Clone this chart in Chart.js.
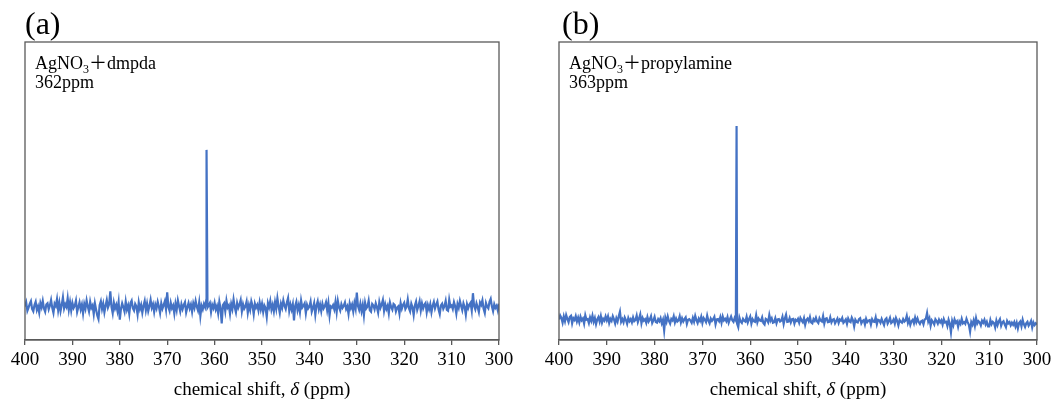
<!DOCTYPE html>
<html>
<head>
<meta charset="utf-8">
<script src="https://cdn.jsdelivr.net/npm/chart.js@4/dist/chart.umd.min.js"></script>
<style>
  body { margin: 0; background: #fff; }
  #wrap { position: relative; width: 1057px; height: 401px; }
  canvas { position: absolute; top: 0; }
</style>
</head>
<body>
<div id="wrap">
  <canvas id="chartA" width="530" height="401" style="left:0"></canvas>
  <canvas id="chartB" width="527" height="401" style="left:530px"></canvas>
</div>
<script>
// shift grid 400 -> 300 ppm, 0.25 ppm step (20 values per 5 ppm row)
const shiftStart = 400
const shiftStep = 0.25
const xTicks = [400, 390, 380, 370, 360, 350, 340, 330, 320, 310, 300]

// (a) AgNO3 + dmpda, baseline noise (arb. units)
const noiseA = [
  11.2, 12.6, 9.8, 10.9, 12.1, 13.0, 10.4, 9.6, 11.7, 12.8, 10.1, 11.3, 9.2, 12.4, 11.0, 13.1, 10.6, 9.5, 11.9, 12.3,
  10.3, 11.6, 13.4, 10.8, 9.1, 12.2, 11.4, 13.7, 10.0, 12.5, 9.7, 11.8, 14.3, 10.6, 12.0, 11.1, 14.0, 10.2, 12.7, 9.9,
  12.4, 10.7, 11.5, 13.2, 9.4, 11.0, 12.6, 10.3, 11.9, 8.9, 12.1, 10.5, 13.3, 11.2, 9.6, 12.8, 10.8, 11.6, 8.7, 12.3,
  10.2, 8.2, 7.0, 11.7, 13.0, 10.4, 12.2, 9.3, 11.5, 13.4, 10.9, 12.0, 16.3, 11.1, 9.0, 12.5, 10.6, 11.8, 9.8, 12.7,
  6.8, 10.5, 12.3, 11.0, 9.5, 12.9, 10.2, 11.6, 8.8, 12.4, 13.2, 10.7, 9.9, 12.1, 11.3, 8.6, 12.6, 10.4, 11.8, 9.2,
  11.5, 13.1, 10.0, 12.2, 9.7, 11.4, 13.5, 10.8, 12.0, 9.4, 11.9, 10.6, 12.8, 11.2, 9.1, 12.3, 10.5, 11.7, 13.0, 10.3,
  16.0, 11.1, 9.8, 12.5, 10.7, 11.6, 8.9, 12.2, 10.1, 13.3, 11.4, 9.6, 12.0, 10.4, 11.8, 12.7, 9.3, 11.0, 12.4, 10.6,
  11.9, 9.5, 12.3, 10.8, 13.1, 11.2, 9.9, 12.6, 8.1, 11.5, 10.3, 12.1, 11.0, 13.5, 10.9, 11.6, 12.4, 9.4, 11.8, 10.7,
  12.5, 10.2, 11.4, 9.0, 12.8, 10.6, 5.6, 11.7, 12.3, 9.7, 13.2, 10.9, 11.6, 8.8, 12.1, 10.4, 13.6, 11.0, 9.3, 12.4,
  10.8, 11.9, 13.4, 9.6, 12.0, 10.5, 11.3, 12.9, 9.2, 11.7, 10.1, 13.0, 11.5, 8.7, 12.2, 10.9, 11.8, 9.9, 12.6, 10.3,
  12.1, 9.4, 11.6, 10.7, 7.8, 12.4, 11.0, 13.1, 10.2, 11.8, 9.6, 12.7, 10.5, 14.0, 11.3, 9.1, 12.2, 10.8, 13.3, 11.5,
  10.4, 12.6, 14.1, 9.8, 11.9, 10.2, 12.0, 6.6, 11.4, 12.8, 10.0, 11.7, 9.3, 13.2, 10.9, 11.5, 12.3, 9.0, 11.8, 10.6,
  11.2, 12.9, 9.5, 10.8, 12.4, 8.5, 11.6, 13.0, 10.3, 11.9, 9.7, 12.2, 10.6, 11.4, 12.7, 10.0, 12.5, 8.2, 11.3, 10.9,
  11.7, 10.3, 12.8, 9.4, 13.1, 11.0, 9.9, 12.0, 10.8, 11.5, 12.6, 10.4, 11.3, 8.8, 12.3, 10.7, 11.9, 9.6, 12.4, 10.5,
  15.9, 11.4, 10.1, 12.2, 9.7, 11.8, 8.3, 12.5, 10.6, 11.2, 13.2, 10.0, 9.5, 12.1, 11.6, 10.3, 12.3, 11.0, 9.2, 12.7,
  10.8, 11.9, 13.4, 9.8, 12.0, 10.4, 11.5, 9.0, 12.6, 11.1, 10.2, 12.1, 11.7, 9.6, 10.9, 11.3, 8.9, 12.4, 10.5, 11.8,
  12.5, 10.4, 11.2, 13.6, 10.7, 9.6, 12.2, 11.0, 8.4, 11.6, 12.9, 10.1, 11.4, 13.0, 9.9, 12.3, 10.6, 11.8, 12.4, 9.3,
  11.7, 10.3, 12.0, 9.3, 11.5, 12.8, 10.6, 11.9, 12.9, 10.2, 8.7, 11.6, 12.2, 10.5, 11.4, 13.1, 10.1, 9.8, 13.5, 11.2,
  11.6, 10.4, 12.7, 11.3, 8.9, 12.1, 10.8, 13.1, 11.5, 10.0, 12.3, 11.1, 8.5, 12.0, 10.7, 11.9, 12.5, 9.9, 15.7, 11.4,
  10.3, 12.3, 11.0, 9.4, 12.6, 11.8, 13.3, 10.5, 9.1, 12.4, 11.2, 10.6, 12.8, 13.8, 11.3, 9.7, 12.0, 10.8, 11.5, 9.9,
  12.2
]
const peakShiftA = [361.7]
const peakValA = [63.8]

// (b) AgNO3 + propylamine, baseline noise (arb. units)
const noiseB = [
  6.9, 8.2, 7.4, 5.8, 7.9, 6.3, 8.4, 7.1, 6.0, 7.7, 8.1, 5.6, 7.3, 6.7, 8.0, 6.2, 7.5, 5.9, 7.8, 6.6,
  7.2, 5.5, 8.3, 6.8, 7.0, 5.7, 7.6, 6.4, 8.2, 6.1, 7.4, 5.3, 6.9, 7.7, 6.2, 8.0, 5.8, 7.1, 6.5, 7.9,
  6.6, 7.9, 5.7, 7.1, 6.4, 8.0, 6.9, 5.5, 7.3, 6.2, 8.0, 9.5, 6.1, 7.0, 5.9, 7.6, 6.7, 5.4, 7.4, 6.3,
  7.0, 5.9, 7.6, 6.3, 6.7, 8.2, 6.0, 7.2, 8.6, 5.6, 7.4, 6.5, 7.0, 5.8, 7.7, 6.2, 6.9, 8.0, 5.7, 6.6,
  7.8, 6.0, 5.8, 7.0, 6.3, 7.3, 5.6, 6.8, 3.2, 7.5, 6.1, 7.9, 6.4, 5.5, 7.1, 6.6, 8.0, 5.9, 7.2, 6.2,
  6.6, 8.0, 5.9, 7.3, 6.2, 7.0, 7.6, 5.4, 6.8, 7.0, 6.5, 5.8, 7.4, 6.1, 8.1, 6.7, 5.7, 7.2, 6.4, 7.8,
  5.7, 7.4, 6.8, 6.0, 8.2, 6.5, 5.6, 7.2, 6.4, 7.0, 7.8, 5.3, 6.9, 7.0, 6.3, 7.7, 5.8, 7.9, 6.6, 7.1,
  6.3, 7.7, 5.8, 6.9, 7.9, 6.6, 6.1, 7.4, 6.6, 5.5, 4.3, 7.5, 6.2, 5.7, 7.1, 6.5, 6.2, 7.8, 5.9, 7.0,
  7.9, 5.5, 7.0, 6.3, 6.1, 8.3, 5.9, 7.2, 6.6, 6.4, 7.6, 5.7, 5.2, 7.1, 6.8, 6.0, 8.4, 6.5, 7.3, 5.8,
  6.0, 7.3, 5.6, 6.9, 7.0, 6.2, 6.5, 7.8, 5.4, 7.2, 8.5, 6.1, 6.2, 7.4, 5.9, 7.0, 7.1, 5.5, 6.8, 6.4,
  7.1, 5.8, 7.4, 6.6, 6.0, 7.3, 5.1, 6.7, 7.2, 6.3, 7.7, 5.9, 5.6, 7.0, 6.4, 7.5, 6.2, 5.7, 7.3, 6.5,
  6.2, 8.0, 5.5, 7.1, 7.3, 6.0, 6.1, 7.6, 5.9, 6.8, 7.0, 5.6, 6.4, 7.2, 5.7, 6.9, 6.5, 7.4, 5.8, 6.3,
  6.9, 5.4, 7.2, 6.3, 6.0, 7.5, 6.6, 4.6, 6.8, 6.1, 5.9, 7.0, 7.3, 5.6, 6.4, 6.7, 5.2, 7.1, 6.0, 6.5,
  6.7, 5.2, 7.0, 6.2, 6.1, 7.6, 5.3, 6.8, 6.6, 5.8, 7.1, 6.0, 5.0, 6.9, 7.3, 5.5, 6.3, 7.4, 5.7, 6.1,
  6.9, 5.5, 7.4, 6.4, 4.9, 6.7, 6.1, 5.8, 7.0, 6.2, 6.6, 8.1, 5.7, 6.9, 5.1, 6.3, 6.8, 5.6, 7.5, 6.0,
  7.2, 6.0, 5.4, 6.3, 6.5, 5.3, 6.9, 7.1, 9.0, 6.2, 7.3, 4.8, 6.6, 6.0, 5.2, 7.0, 6.4, 5.5, 6.8, 5.9,
  6.6, 5.2, 7.0, 5.9, 6.1, 4.7, 6.8, 5.5, 2.6, 6.4, 5.0, 6.9, 5.8, 6.3, 4.4, 6.2, 5.4, 7.1, 5.6, 6.0,
  5.4, 7.1, 6.0, 5.1, 2.8, 6.0, 5.1, 6.6, 4.7, 7.3, 5.5, 6.3, 5.9, 4.9, 6.5, 5.8, 6.8, 5.2, 6.1, 4.6,
  4.6, 6.7, 5.3, 6.1, 5.7, 4.2, 6.5, 5.0, 6.2, 7.0, 4.8, 5.9, 6.3, 5.2, 4.3, 6.4, 5.6, 6.0, 4.9, 5.8,
  5.1, 6.0, 4.5, 5.8, 3.9, 5.7, 6.2, 4.6, 6.8, 5.3, 4.4, 5.6, 6.1, 4.8, 5.5, 6.4, 4.2, 5.9, 5.0, 5.6,
  5.2
]
const peakShiftB = [362.85]
const peakValB = [71.8]

const lineColor = '#4472C4'
const frameColor = '#595959'
const serif = '"Liberation Serif", "Times New Roman", serif'

function buildPoints(noise, peakShifts, peakVals) {
  const pts = noise.map((v, i) => ({ x: shiftStart - i * shiftStep, y: v }))
  peakShifts.forEach((s, i) => pts.push({ x: s, y: peakVals[i] }))
  pts.sort((a, b) => b.x - a.x)
  return pts
}

const panelDecor = {
  id: 'panelDecor',
  afterDraw(chart, args, opts) {
    const { ctx, chartArea } = chart
    ctx.save()
    // plot frame
    ctx.strokeStyle = frameColor
    ctx.lineWidth = 1.3
    ctx.strokeRect(chartArea.left, chartArea.top, chartArea.right - chartArea.left, chartArea.bottom - chartArea.top)

    ctx.fillStyle = '#000'
    ctx.textBaseline = 'alphabetic'
    ctx.textAlign = 'left'
    ctx.font = '32px ' + serif
    ctx.fillText(opts.tag, chartArea.left + opts.tagDx, 34)

    // sample label
    let x = chartArea.left + 10
    ctx.font = '18px ' + serif
    ctx.fillText('AgNO', x, 69)
    x += ctx.measureText('AgNO').width
    ctx.font = '12px ' + serif
    ctx.fillText('3', x, 73)
    x += ctx.measureText('3').width
    ctx.font = '18px ' + serif + ', "Noto Sans CJK JP"'
    ctx.fillText('＋' + opts.reagent, x, 69)
    ctx.font = '18px ' + serif
    ctx.fillText(opts.shift, chartArea.left + 10, 88)

    // axis title with italic delta
    const parts = [['chemical shift, ', ''], ['δ', 'italic '], [' (ppm)', '']]
    let w = 0
    parts.forEach(p => { ctx.font = p[1] + '19px ' + serif; w += ctx.measureText(p[0]).width })
    x = (chartArea.left + chartArea.right) / 2 - w / 2
    parts.forEach(p => {
      ctx.font = p[1] + '19px ' + serif
      ctx.fillText(p[0], x, 395)
      x += ctx.measureText(p[0]).width
    })
    ctx.restore()
  }
}

function makeChart(id, points, pad, decor) {
  return new Chart(document.getElementById(id), {
    type: 'line',
    data: {
      datasets: [{
        data: points,
        borderColor: lineColor,
        borderWidth: 2.2,
        pointRadius: 0,
        tension: 0,
        fill: false
      }]
    },
    options: {
      responsive: false,
      animation: false,
      layout: { padding: { left: pad.left, right: pad.right, top: 42, bottom: 0 } },
      plugins: { legend: { display: false }, tooltip: { enabled: false }, panelDecor: decor },
      scales: {
        x: {
          type: 'linear',
          reverse: true,
          min: 300,
          max: 400,
          afterBuildTicks: axis => { axis.ticks = xTicks.map(v => ({ value: v })) },
          afterFit: axis => { axis.height = 61 },
          ticks: { color: '#000', font: { family: serif, size: 19 }, padding: 4, maxRotation: 0 },
          grid: { drawOnChartArea: false, drawTicks: true, tickLength: 5, color: frameColor, lineWidth: 1.3 },
          border: { display: true, color: frameColor, width: 1.3 }
        },
        y: { display: false, min: 0, max: 100 }
      }
    },
    plugins: [panelDecor]
  })
}

makeChart('chartA', buildPoints(noiseA, peakShiftA, peakValA), { left: 25, right: 31 },
  { tag: '(a)', tagDx: 0, reagent: 'dmpda', shift: '362ppm' })
makeChart('chartB', buildPoints(noiseB, peakShiftB, peakValB), { left: 29, right: 20 },
  { tag: '(b)', tagDx: 3, reagent: 'propylamine', shift: '363ppm' })
</script>
</body>
</html>
